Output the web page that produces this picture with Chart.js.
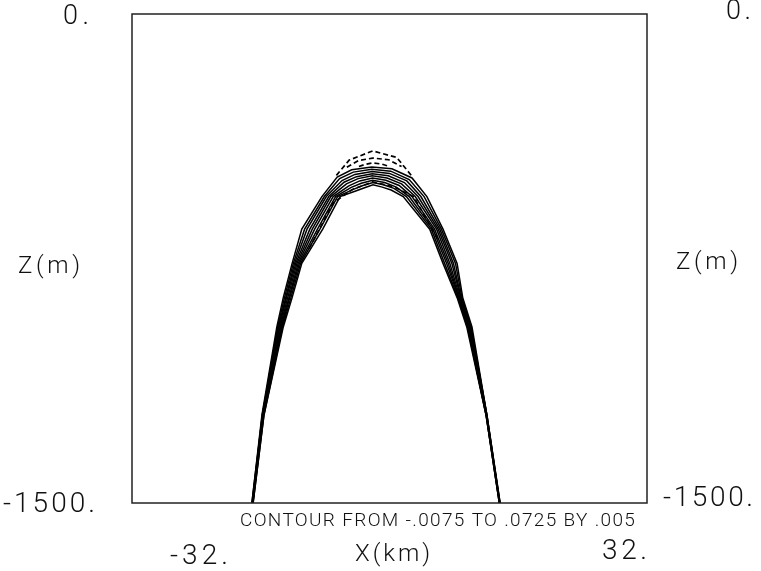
<!DOCTYPE html>
<html>
<head>
<meta charset="utf-8">
<script src="https://cdn.jsdelivr.net/npm/chart.js@4"></script>
<style>
  body { margin: 0; background: #fff; }
</style>
</head>
<body>
<canvas id="contourChart" width="761" height="571"></canvas>
<script>
// axis ranges and labels
const xRange = [-32, 32];
const zRange = [-1500, 0];
const xTicks = ['-32.', '32.'];
const zTicks = ['0.', '-1500.'];
const xTitle = 'X(km)';
const zTitle = 'Z(m)';
const contourNote = 'CONTOUR FROM -.0075 TO .0725 BY .005';

// depths (m) where the flanks of every solid contour are sampled
const legDepth = [-1500, -1230, -960, -870, -765, -660, -560];

// solid contours, outermost first: x (km) of the left and right flanks at legDepth
const leftLegX = [
  [-17.1, -15.85, -14.0, -13.2, -12.1, -10.9, -8.4],
  [-17.1, -15.8, -13.9, -13.05, -11.95, -10.55, -8.1],
  [-17.05, -15.8, -13.8, -12.9, -11.8, -10.25, -7.85],
  [-17.05, -15.75, -13.7, -12.8, -11.65, -9.9, -7.55],
  [-17.0, -15.7, -13.6, -12.65, -11.5, -9.6, -7.3],
  [-17.0, -15.7, -13.5, -12.5, -11.35, -9.3, -7.0],
  [-17.0, -15.65, -13.4, -12.4, -11.2, -8.95, -6.7],
  [-16.95, -15.6, -13.3, -12.25, -11.05, -8.65, -6.45],
  [-16.95, -15.6, -13.2, -12.1, -10.9, -8.3, -6.15]
];
const rightLegX = [
  [13.75, 12.1, 10.25, 9.1, 8.4, 6.65, 4.65],
  [13.75, 12.1, 10.15, 9.0, 8.2, 6.45, 4.3],
  [13.7, 12.1, 10.1, 8.9, 7.95, 6.25, 3.9],
  [13.7, 12.05, 10.0, 8.85, 7.75, 6.05, 3.55],
  [13.7, 12.05, 9.9, 8.75, 7.5, 5.85, 3.2],
  [13.7, 12.05, 9.85, 8.65, 7.3, 5.6, 2.8],
  [13.65, 12.0, 9.75, 8.6, 7.1, 5.4, 2.45],
  [13.65, 12.0, 9.7, 8.5, 6.85, 5.2, 2.1],
  [13.65, 12.0, 9.6, 8.4, 6.65, 5.0, 1.7]
];

// crest of each solid contour, left shoulder to right shoulder
const capX = [
  [-6.5, -4.7, -2.2, 0.3, 2.8],
  [-6.2, -4.5, -2.2, 0.15, 2.45],
  [-5.9, -4.3, -2.15, 0.0, 2.15],
  [-5.65, -4.1, -2.15, -0.15, 1.85],
  [-5.35, -3.9, -2.15, -0.3, 1.5],
  [-5.05, -3.7, -2.1, -0.45, 1.2],
  [-4.75, -3.5, -2.1, -0.6, 0.85],
  [-4.5, -3.3, -2.05, -0.75, 0.55],
  [-4.2, -3.1, -2.05, -0.9, 0.2]
];
const capZ = [
  [-500, -478, -469, -475, -503],
  [-505, -485, -476, -482, -508],
  [-511, -492, -483, -489, -512],
  [-516, -499, -490, -496, -517],
  [-521, -505, -496, -503, -521],
  [-527, -512, -503, -510, -526],
  [-532, -519, -510, -517, -531],
  [-538, -526, -517, -524, -535],
  [-543, -533, -524, -531, -540]
];

// negative contours (dashed)
const dashX = [
  [-6.6, -5.0, -2.1, 0.9, 2.7],
  [-5.3, -3.9, -2.1, -0.1, 1.5],
  [-3.8, -3.0, -2.1, -1.0, 0.0],
  [-10.0, -7.0, -4.6, -2.1, 0.5, 3.0, 6.0]
];
const dashZ = [
  [-495, -448, -420, -440, -495],
  [-470, -450, -442, -447, -468],
  [-468, -461, -457, -460, -468],
  [-720, -580, -538, -515, -530, -560, -690]
];

function solidContour(k) {
  const pts = [];
  for (let i = 0; i < legDepth.length; i++) {
    pts.push({ x: leftLegX[k][i], y: legDepth[i] });
  }
  for (let i = 0; i < capX[k].length; i++) {
    pts.push({ x: capX[k][i], y: capZ[k][i] });
  }
  for (let i = legDepth.length - 1; i >= 0; i--) {
    pts.push({ x: rightLegX[k][i], y: legDepth[i] });
  }
  return pts;
}

const datasets = [];
for (let k = 0; k < leftLegX.length; k++) {
  datasets.push({
    data: solidContour(k),
    borderColor: '#000',
    borderWidth: 1.5,
    pointRadius: 0,
    showLine: true,
    tension: 0
  });
}
for (let k = 0; k < dashX.length; k++) {
  datasets.push({
    data: dashX[k].map((x, i) => ({ x: x, y: dashZ[k][i] })),
    borderColor: '#000',
    borderWidth: 1.7,
    borderDash: [5, 3],
    pointRadius: 0,
    showLine: true,
    tension: 0
  });
}

// frame and the plotter-style labels round it
const framePlugin = {
  id: 'frame',
  afterDraw(chart) {
    const ctx = chart.ctx;
    const a = chart.chartArea;
    ctx.save();
    ctx.strokeStyle = '#222';
    ctx.lineWidth = 1.5;
    ctx.strokeRect(a.left, a.top, a.right - a.left, a.bottom - a.top);

    ctx.fillStyle = '#111';
    ctx.textBaseline = 'middle';
    const labels = [
      [zTicks[0], 63, 17, 27, 26],
      [zTicks[0], 726, 12, 27, 25],
      [zTitle, 18, 267, 24, 62],
      [zTitle, 676, 263, 24, 62],
      [zTicks[1], 3, 505, 28, 92],
      [zTicks[1], 663, 499, 28, 90],
      [xTicks[0], 170, 557, 28, 58],
      [xTitle, 355, 555, 24, 75],
      [xTicks[1], 602, 552, 28, 45],
      [contourNote, 240, 521, 19, 395]
    ];
    labels.forEach(([text, x, y, size, width]) => {
      ctx.font = '300 ' + size + 'px Roboto';
      ctx.letterSpacing = '0px';
      const w = ctx.measureText(text).width;
      // spread the glyphs out like a pen plotter would, or squeeze if too wide
      const gap = (width - w) / Math.max(text.length - 1, 1);
      ctx.save();
      ctx.translate(x, y);
      if (gap > 0) {
        ctx.letterSpacing = gap.toFixed(2) + 'px';
      } else {
        ctx.scale(width / w, 1);
      }
      ctx.fillText(text, 0, 0);
      ctx.restore();
    });
    ctx.restore();
  }
};

const ctx = document.getElementById('contourChart').getContext('2d');
new Chart(ctx, {
  type: 'scatter',
  data: { datasets: datasets },
  options: {
    responsive: false,
    animation: false,
    layout: { padding: { left: 132, top: 14, right: 114, bottom: 68 } },
    plugins: { legend: { display: false }, tooltip: { enabled: false } },
    scales: {
      x: { type: 'linear', min: xRange[0], max: xRange[1], display: false },
      y: { type: 'linear', min: zRange[0], max: zRange[1], display: false }
    }
  },
  plugins: [framePlugin]
});
</script>
</body>
</html>
